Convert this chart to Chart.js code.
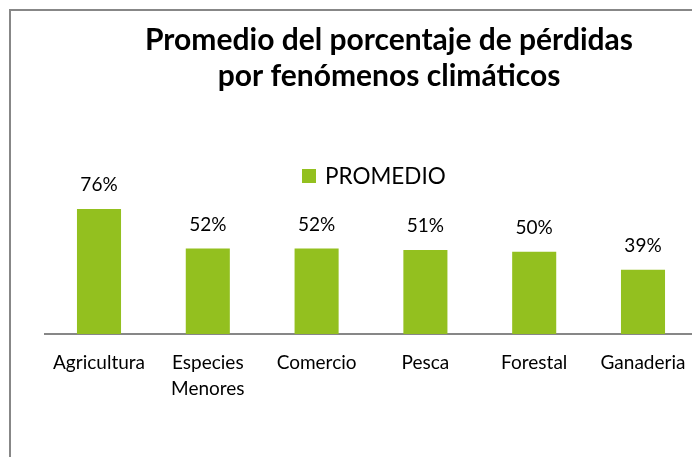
<!DOCTYPE html>
<html>
<head>
<meta charset="utf-8">
<script src="https://cdn.jsdelivr.net/npm/chart.js@4/dist/chart.umd.min.js"></script>
<style>
html,body{margin:0;padding:0;background:#fff;overflow:hidden;width:692px;height:457px;}
#wrap{position:absolute;left:0;top:0;width:778px;height:460px;}
</style>
</head>
<body>
<div id="wrap"><canvas id="c" width="778" height="460"></canvas></div>
<script>
const categories = [["Agricultura"], ["Especies", "Menores"], ["Comercio"], ["Pesca"], ["Forestal"], ["Ganaderia"]];
const promedio = [0.76, 0.52, 0.52, 0.51, 0.50, 0.39];
const seriesName = "PROMEDIO";
const titleLines = ["Promedio del porcentaje de pérdidas", "por fenómenos climáticos"];

const barColor = "#93C01F";
const axisColor = "#878787";
const FONT = "Lato, 'Open Sans', sans-serif";

const framePlugin = {
  id: 'frame',
  beforeDraw(chart) {
    const ctx = chart.ctx;
    ctx.save();
    ctx.fillStyle = '#fff';
    ctx.fillRect(0, 0, chart.width, chart.height);
    ctx.strokeStyle = axisColor;
    ctx.lineWidth = 2;
    ctx.strokeRect(10, 10, 2000, 2000);
    ctx.restore();
  }
};

const titlePlugin = {
  id: 'customTitle',
  afterDraw(chart) {
    const ctx = chart.ctx;
    ctx.save();
    ctx.font = "bold 30px " + FONT;
    ctx.fillStyle = '#000';
    ctx.textAlign = 'center';
    ctx.textBaseline = 'middle';
    titleLines.forEach((line, i) => ctx.fillText(line, 389, 40 + i * 36));
    ctx.restore();
  }
};

const labelPlugin = {
  id: 'valueLabels',
  afterDatasetsDraw(chart) {
    const ctx = chart.ctx;
    ctx.save();
    ctx.font = "19px " + FONT;
    ctx.fillStyle = '#000';
    ctx.textAlign = 'center';
    ctx.textBaseline = 'middle';
    const meta = chart.getDatasetMeta(0);
    meta.data.forEach((bar, i) => {
      const v = chart.data.datasets[0].data[i];
      ctx.fillText(Math.round(v * 100) + '%', bar.x, bar.y - 24);
    });
    ctx.restore();
  }
};

const legendPlugin = {
  id: 'customLegend',
  afterDraw(chart) {
    const ctx = chart.ctx;
    const ds = chart.data.datasets[0];
    ctx.save();
    ctx.fillStyle = ds.backgroundColor;
    ctx.fillRect(302, 169, 14, 14);
    ctx.font = "22.5px " + FONT;
    ctx.fillStyle = '#000';
    ctx.textAlign = 'left';
    ctx.textBaseline = 'middle';
    ctx.fillText(ds.label, 325, 176.5);
    ctx.restore();
  }
};

new Chart(document.getElementById('c'), {
  type: 'bar',
  data: {
    labels: categories,
    datasets: [{
      label: seriesName,
      data: promedio,
      backgroundColor: barColor,
      borderWidth: 0,
      categoryPercentage: 1.0,
      barPercentage: 0.405
    }]
  },
  options: {
    responsive: false,
    animation: false,
    events: [],
    layout: { padding: { left: 44.6, right: 80.6, top: 169.5, bottom: 42 } },
    plugins: {
      legend: { display: false },
      tooltip: { enabled: false },
      title: { display: false }
    },
    scales: {
      x: {
        grid: { display: false, drawTicks: false },
        border: { display: true, color: axisColor, width: 2 },
        ticks: {
          color: '#000',
          font: { family: FONT, size: 19, lineHeight: 1.37 },
          padding: 16,
          maxRotation: 0,
          minRotation: 0,
          autoSkip: false
        }
      },
      y: {
        display: false,
        min: 0,
        max: 1
      }
    }
  },
  plugins: [framePlugin, labelPlugin, legendPlugin, titlePlugin]
});
</script>
</body>
</html>
